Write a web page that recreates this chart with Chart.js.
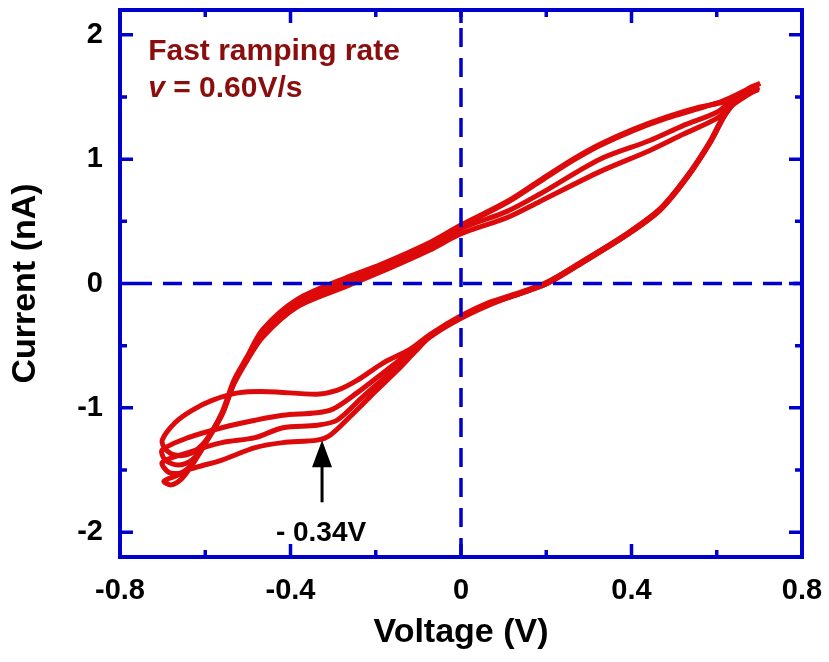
<!DOCTYPE html>
<html>
<head>
<meta charset="utf-8">
<script src="https://cdn.jsdelivr.net/npm/chart.js@4.4.1/dist/chart.umd.min.js"></script>
<style>
  html, body { margin: 0; padding: 0; background: #fff; }
</style>
</head>
<body>
<canvas id="cv-chart" width="829" height="662"></canvas>
<script>
// voltage (V), current (nA), one array per sweep cycle
let cycle1 = [
  [0.700, 1.58], [0.671, 1.54], [0.615, 1.46], [0.561, 1.42], [0.483, 1.34], [0.404, 1.24],
  [0.326, 1.12], [0.263, 1.00], [0.185, 0.83], [0.108, 0.66], [0.000, 0.47], [-0.073, 0.33],
  [-0.190, 0.15], [-0.267, 0.05], [-0.385, -0.13], [-0.465, -0.37], [-0.502, -0.59], [-0.533, -0.78],
  [-0.561, -1.04], [-0.600, -1.27], [-0.636, -1.37], [-0.671, -1.38], [-0.694, -1.33], [-0.701, -1.26],
  [-0.671, -1.12], [-0.631, -1.02], [-0.584, -0.94], [-0.523, -0.88], [-0.453, -0.87], [-0.338, -0.89],
  [-0.291, -0.86], [-0.244, -0.78], [-0.183, -0.64], [-0.120, -0.53], [-0.073, -0.41], [0.000, -0.26],
  [0.068, -0.15], [0.122, -0.09], [0.202, 0.01], [0.286, 0.18], [0.389, 0.40], [0.467, 0.60],
  [0.530, 0.86], [0.584, 1.14], [0.624, 1.39], [0.671, 1.55], [0.700, 1.58]
];
let cycle2 = [
  [0.702, 1.61], [0.671, 1.56], [0.615, 1.47], [0.561, 1.41], [0.483, 1.33], [0.404, 1.23],
  [0.326, 1.11], [0.263, 0.99], [0.185, 0.82], [0.108, 0.65], [0.000, 0.46], [-0.073, 0.32],
  [-0.190, 0.14], [-0.267, 0.04], [-0.385, -0.14], [-0.465, -0.38], [-0.502, -0.60], [-0.533, -0.80],
  [-0.561, -1.05], [-0.600, -1.28], [-0.631, -1.42], [-0.664, -1.46], [-0.694, -1.42], [-0.701, -1.34],
  [-0.640, -1.24], [-0.561, -1.16], [-0.483, -1.10], [-0.418, -1.06], [-0.338, -1.04], [-0.300, -1.01],
  [-0.244, -0.88], [-0.183, -0.72], [-0.120, -0.55], [-0.073, -0.42], [0.000, -0.27], [0.068, -0.16],
  [0.122, -0.10], [0.202, 0.00], [0.286, 0.17], [0.389, 0.39], [0.467, 0.59], [0.530, 0.85],
  [0.584, 1.13], [0.624, 1.38], [0.671, 1.56], [0.702, 1.61]
];
let cycle3 = [
  [0.698, 1.56], [0.643, 1.49], [0.601, 1.38], [0.521, 1.27], [0.443, 1.15], [0.326, 1.00],
  [0.185, 0.72], [0.108, 0.58], [0.000, 0.44], [-0.073, 0.29], [-0.190, 0.11], [-0.267, 0.01],
  [-0.385, -0.16], [-0.465, -0.40], [-0.502, -0.61], [-0.533, -0.80], [-0.561, -1.05], [-0.600, -1.28],
  [-0.631, -1.45], [-0.655, -1.52], [-0.685, -1.52], [-0.701, -1.44],
  [-0.640, -1.36], [-0.561, -1.28], [-0.483, -1.24], [-0.418, -1.16], [-0.338, -1.14], [-0.291, -1.10],
  [-0.230, -0.91], [-0.167, -0.72], [-0.120, -0.57], [-0.073, -0.43], [0.000, -0.27], [0.068, -0.16],
  [0.122, -0.10], [0.202, 0.01], [0.286, 0.18], [0.389, 0.40], [0.467, 0.60], [0.530, 0.86],
  [0.584, 1.14], [0.624, 1.39], [0.671, 1.54], [0.698, 1.56]
];
let cycle4 = [
  [0.698, 1.57], [0.643, 1.45], [0.601, 1.33], [0.521, 1.20], [0.443, 1.07], [0.326, 0.90],
  [0.185, 0.66], [0.108, 0.53], [0.000, 0.40], [-0.073, 0.27], [-0.190, 0.09], [-0.267, -0.02],
  [-0.385, -0.19], [-0.465, -0.43], [-0.502, -0.62], [-0.533, -0.81], [-0.561, -1.06], [-0.600, -1.29],
  [-0.631, -1.46], [-0.655, -1.57], [-0.680, -1.62], [-0.697, -1.59],
  [-0.671, -1.55], [-0.640, -1.50], [-0.612, -1.47], [-0.561, -1.42], [-0.483, -1.32], [-0.418, -1.28],
  [-0.338, -1.26], [-0.307, -1.22], [-0.260, -1.07], [-0.213, -0.91], [-0.150, -0.70], [-0.108, -0.55],
  [-0.073, -0.43], [0.000, -0.28], [0.068, -0.17], [0.122, -0.10], [0.202, 0.00], [0.286, 0.17],
  [0.389, 0.39], [0.467, 0.59], [0.530, 0.85], [0.584, 1.13], [0.624, 1.38], [0.671, 1.54], [0.698, 1.57]
];

let xTicks = [-0.8, -0.6, -0.4, -0.2, 0, 0.2, 0.4, 0.6, 0.8];
let yTicks = [-2, -1.5, -1, -0.5, 0, 0.5, 1, 1.5, 2];

// arrow: voltage, tip current, tail current
let arrowAt = [-0.326, -1.26, -1.76];
let peakLabel = '- 0.34V';
let noteLines = ['Fast ramping rate', ' = 0.60V/s'];

let red = '#dc0a0a';
let blue = '#0000cc';
let fontFam = 'Arial, "Liberation Sans", Helvetica, sans-serif';

let decor = {
  id: 'decor',
  afterDatasetsDraw: function (chart) {
    let ctx = chart.ctx;
    let a = chart.chartArea;
    let xs = chart.scales.x, ys = chart.scales.y;
    ctx.save();

    // dashed zero lines
    ctx.strokeStyle = blue;
    ctx.lineWidth = 3.5;
    ctx.setLineDash([19, 11]);
    ctx.lineDashOffset = 17;
    ctx.beginPath();
    ctx.moveTo(a.left, ys.getPixelForValue(0));
    ctx.lineTo(a.right, ys.getPixelForValue(0));
    ctx.stroke();
    ctx.lineDashOffset = 12;
    ctx.beginPath();
    ctx.moveTo(xs.getPixelForValue(0), a.top);
    ctx.lineTo(xs.getPixelForValue(0), a.bottom);
    ctx.stroke();
    ctx.setLineDash([]);

    // frame
    ctx.lineWidth = 4;
    ctx.strokeRect(a.left, a.top, a.right - a.left, a.bottom - a.top);

    // inward ticks on all four sides
    ctx.lineWidth = 3.5;
    ctx.beginPath();
    xTicks.forEach(function (v) {
      let k = Math.round(v * 10);
      if (Math.abs(k) >= 8) return;
      let len = (k % 4 === 0) ? 13 : 7;
      let p = xs.getPixelForValue(v);
      ctx.moveTo(p, a.bottom); ctx.lineTo(p, a.bottom - len);
      ctx.moveTo(p, a.top); ctx.lineTo(p, a.top + len);
    });
    yTicks.forEach(function (v) {
      let len = Number.isInteger(v) ? 13 : 7;
      let p = ys.getPixelForValue(v);
      ctx.moveTo(a.left, p); ctx.lineTo(a.left + len, p);
      ctx.moveTo(a.right, p); ctx.lineTo(a.right - len, p);
    });
    ctx.stroke();

    // arrow pointing at the peak
    let ax = xs.getPixelForValue(arrowAt[0]);
    let tip = ys.getPixelForValue(arrowAt[1]);
    let tail = ys.getPixelForValue(arrowAt[2]);
    ctx.fillStyle = '#000';
    ctx.strokeStyle = '#000';
    ctx.beginPath();
    ctx.moveTo(ax, tip);
    ctx.lineTo(ax - 10, tip + 27);
    ctx.lineTo(ax + 10, tip + 27);
    ctx.closePath();
    ctx.fill();
    ctx.lineWidth = 3;
    ctx.beginPath();
    ctx.moveTo(ax, tip + 20);
    ctx.lineTo(ax, tail);
    ctx.stroke();

    ctx.font = 'bold 28px ' + fontFam;
    ctx.textAlign = 'center';
    ctx.textBaseline = 'alphabetic';
    ctx.fillText(peakLabel, ax - 1, ys.getPixelForValue(-2.07));

    // note in top-left corner
    let nx = xs.getPixelForValue(-0.734);
    ctx.fillStyle = '#8a0e0e';
    ctx.textAlign = 'left';
    ctx.font = 'bold 30px ' + fontFam;
    ctx.fillText(noteLines[0], nx, ys.getPixelForValue(1.794));
    ctx.font = 'italic bold 30px ' + fontFam;
    ctx.fillText('v', nx, ys.getPixelForValue(1.503));
    let vw = ctx.measureText('v').width;
    ctx.font = 'bold 30px ' + fontFam;
    ctx.fillText(noteLines[1], nx + vw, ys.getPixelForValue(1.503));

    ctx.restore();
  }
};

let datasets = [cycle1, cycle2, cycle3, cycle4].map(function (c) {
  return {
    data: c,
    showLine: true,
    borderColor: red,
    borderWidth: 5,
    pointRadius: 0,
    tension: 0.3,
    fill: false
  };
});

function noPad(s) {
  s.paddingTop = 0; s.paddingBottom = 0; s.paddingLeft = 0; s.paddingRight = 0;
}

let ctx = document.getElementById('cv-chart').getContext('2d');
let chart = new Chart(ctx, {
  type: 'scatter',
  data: { datasets: datasets },
  options: {
    responsive: false,
    animation: false,
    layout: { padding: { top: 10, right: 27, left: 0, bottom: 0 } },
    plugins: { legend: { display: false }, tooltip: { enabled: false } },
    scales: {
      x: {
        type: 'linear', min: -0.8, max: 0.8,
        afterBuildTicks: function (s) { s.ticks = xTicks.map(function (v) { return { value: v }; }); },
        afterFit: function (s) { s.height = 105; noPad(s); },
        grid: { display: false, drawTicks: false },
        border: { display: false },
        ticks: {
          padding: 17, autoSkip: false, maxRotation: 0,
          color: '#000', font: { family: fontFam, size: 29, weight: 'bold' },
          callback: function (v) {
            let k = Math.round(v * 10);
            if (k % 4 !== 0) return '';
            return k === 0 ? '0' : (k / 10).toFixed(1);
          }
        },
        title: {
          display: true, text: 'Voltage (V)', color: '#000',
          font: { family: fontFam, size: 34, weight: 'bold' },
          padding: { top: 9, bottom: 9 }
        }
      },
      y: {
        type: 'linear', min: -2.2, max: 2.2,
        afterBuildTicks: function (s) { s.ticks = yTicks.map(function (v) { return { value: v }; }); },
        afterFit: function (s) { s.width = 120; noPad(s); },
        grid: { display: false, drawTicks: false },
        border: { display: false },
        ticks: {
          padding: 17, autoSkip: false,
          color: '#000', font: { family: fontFam, size: 29, weight: 'bold' },
          callback: function (v) {
            if (!Number.isInteger(v)) return '';
            return String(v);
          }
        },
        title: {
          display: true, text: 'Current (nA)', color: '#000',
          font: { family: fontFam, size: 34, weight: 'bold' },
          padding: { top: 5, bottom: 5 }
        }
      }
    }
  },
  plugins: [decor]
});
</script>
</body>
</html>
